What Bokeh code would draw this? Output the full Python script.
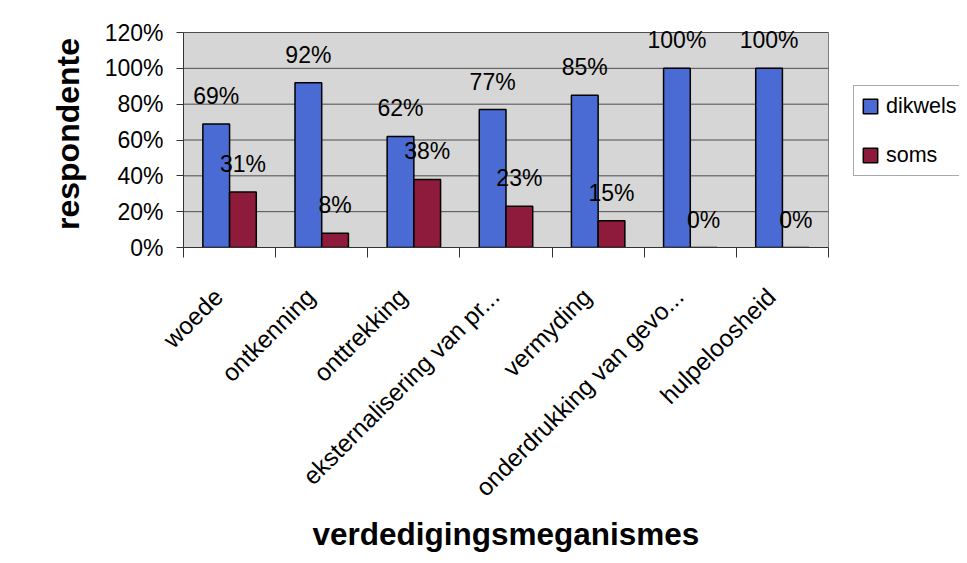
from math import pi
from bokeh.plotting import figure
from bokeh.models import (ColumnDataSource, Range1d, FixedTicker, NumeralTickFormatter,
                          Legend, LegendItem, Title)
from bokeh.transform import dodge
from bokeh.core.properties import value
from bokeh.embed import file_html
from bokeh.resources import INLINE

categories = ["woede", "ontkenning", "onttrekking", "eksternalisering van pr...",
              "vermyding", "onderdrukking van gevo...", "hulpeloosheid"]
dikwels = [0.69, 0.92, 0.62, 0.77, 0.85, 1.00, 1.00]
soms = [0.31, 0.08, 0.38, 0.23, 0.15, 0.00, 0.00]
y_ticks = [0, 0.2, 0.4, 0.6, 0.8, 1.0, 1.2]

FONT = "Liberation Sans"
BLUE = "#4A6BD3"
RED = "#8E1A3C"
PLOT_BG = "#D6D6D6"

W, H = 959, 555
LEFT, TOP, BOTTOM = 183, 20, 308
PLOT_W = 645   # pixel width of the grey plot area
PLOT_H = 215   # pixel height of the grey plot area
Y_MAX = 1.2

n = len(categories)
centers = [i + 0.5 for i in range(n)]
src = ColumnDataSource(dict(
    xc=centers,
    dikwels=dikwels,
    soms=soms,
    dlab=[f"{round(v*100)}%" for v in dikwels],
    slab=[f"{round(v*100)}%" for v in soms],
))

x_end = n * (W - LEFT) / PLOT_W
y_end = Y_MAX * (H - TOP - BOTTOM) / PLOT_H
p = figure(width=W, height=H, output_backend="svg", toolbar_location=None,
           x_range=Range1d(0, x_end), y_range=Range1d(0, y_end),
           min_border_left=LEFT, min_border_right=0, min_border_top=TOP,
           min_border_bottom=BOTTOM)
p.background_fill_color = "white"
p.border_fill_color = "white"
p.outline_line_color = None

# grey plot area and its gridlines
p.quad(left=0, right=n, bottom=0, top=Y_MAX, fill_color=PLOT_BG, line_color="#7F7F7F",
       line_width=1, level="image")
p.segment(x0=[0] * len(y_ticks), x1=[n] * len(y_ticks), y0=y_ticks, y1=y_ticks,
          line_color="#4D4D4D", line_width=1, level="underlay")
p.grid.grid_line_color = None

bw = 0.29
off = 0.145
r1 = p.vbar(x=dodge("xc", -off, range=p.x_range), top="dikwels", width=bw, source=src,
            fill_color=BLUE, line_color="black", line_width=1.5)
r2 = p.vbar(x=dodge("xc", off, range=p.x_range), top="soms", width=bw, source=src,
            fill_color=RED, line_color="black", line_width=1.5)

p.text(x=dodge("xc", -off, range=p.x_range), y="dikwels", text="dlab", source=src,
       text_align="center", text_baseline="alphabetic", y_offset=-28,
       text_font=value(FONT), text_font_size="23px", text_color="black")
p.text(x=dodge("xc", off, range=p.x_range), y="soms", text="slab", source=src,
       text_align="center", text_baseline="alphabetic", y_offset=-28,
       text_font=value(FONT), text_font_size="23px", text_color="black")

# y axis
ya = p.yaxis[0]
ya.bounds = (0, Y_MAX)
ya.ticker = FixedTicker(ticks=y_ticks)
ya.formatter = NumeralTickFormatter(format="0%")
ya.major_label_text_font = FONT
ya.major_label_text_font_size = "23px"
ya.major_label_text_color = "black"
ya.major_tick_out = 7
ya.major_tick_in = 0
ya.minor_tick_out = 0
ya.minor_tick_in = 0
ya.major_label_standoff = 13
ya.axis_line_color = "#333333"
ya.major_tick_line_color = "#333333"
ya.axis_label = "respondente"
ya.axis_label_text_font = FONT
ya.axis_label_text_font_size = "32px"
ya.axis_label_text_font_style = "bold"
ya.axis_label_text_color = "black"
ya.axis_label_standoff = 16

# x axis: labels near category centres, ticks at boundaries
label_shift = 0.12
xa = p.xaxis[0]
xa.bounds = (0, n)
label_pos = [c - label_shift for c in centers]
xa.ticker = FixedTicker(ticks=label_pos, minor_ticks=list(range(n + 1)))
xa.major_label_overrides = {c: lab for c, lab in zip(label_pos, categories)}
xa.major_label_orientation = pi / 4
xa.major_label_text_font = FONT
xa.major_label_text_font_size = "24.5px"
xa.major_label_text_color = "black"
xa.major_tick_out = 0
xa.major_tick_in = 0
xa.minor_tick_out = 10
xa.minor_tick_in = 0
xa.major_label_standoff = 35
xa.axis_line_color = "#333333"
xa.minor_tick_line_color = "#333333"

# x axis title, under the grey plot area
p.add_layout(Title(text="verdedigingsmeganismes", align="left", offset=129,
                   text_font=FONT, text_font_size="31.5px", text_font_style="bold",
                   text_color="black", standoff=1), "below")

legend = Legend(items=[LegendItem(label="dikwels", renderers=[r1]),
                       LegendItem(label="soms", renderers=[r2])],
                location=(670, 71))
legend.label_text_font = FONT
legend.label_text_font_size = "21.5px"
legend.label_text_color = "black"
legend.glyph_width = 18
legend.glyph_height = 18
legend.label_height = 26
legend.spacing = 23
legend.padding = 7
legend.margin = 0
legend.label_standoff = 7
legend.border_line_color = "#555555"
legend.border_line_width = 1
legend.background_fill_color = "white"
legend.background_fill_alpha = 1
p.add_layout(legend, "center")

open("out.html", "w").write(file_html(p, INLINE))
